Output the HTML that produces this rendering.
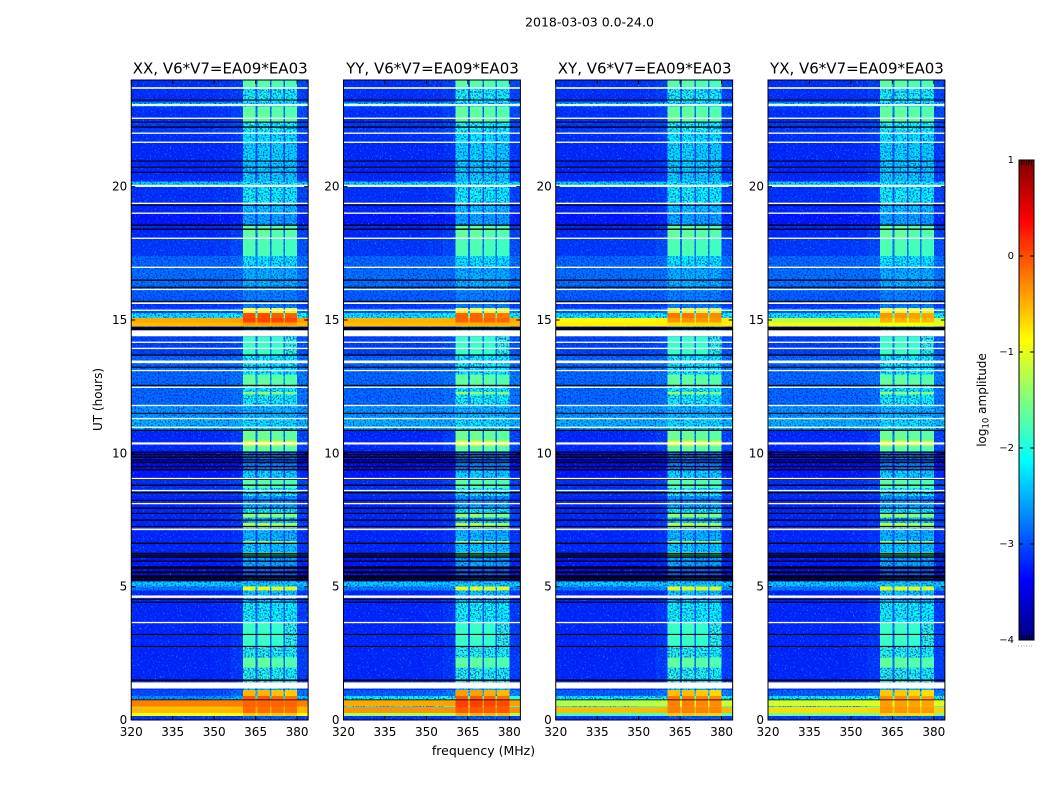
<!DOCTYPE html>
<html lang="en">
<head>
<meta charset="utf-8">
<title>2018-03-03 0.0-24.0</title>
<style>
html,body{margin:0;padding:0;background:#fff;width:1050px;height:800px;overflow:hidden}
svg{display:block}
text{font-family:"DejaVu Sans","Liberation Sans",sans-serif;fill:#000}
</style>
</head>
<body>
<svg id="chart" xmlns="http://www.w3.org/2000/svg" width="1050" height="800" viewBox="0 0 1050 800">
  <defs>
    <filter id="speckle-light" x="0" y="0" width="100%" height="100%" color-interpolation-filters="sRGB">
      <feTurbulence type="fractalNoise" baseFrequency="0.6" numOctaves="2" seed="7"/>
      <feColorMatrix type="matrix" values="0 0 0 0 0  0 0 0 0 0.62  0 0 0 0 1  5 0 0 0 -2.9"/>
    </filter>
    <filter id="speckle-dark" x="0" y="0" width="100%" height="100%" color-interpolation-filters="sRGB">
      <feTurbulence type="fractalNoise" baseFrequency="0.6" numOctaves="2" seed="23"/>
      <feColorMatrix type="matrix" values="0 0 0 0 0  0 0 0 0 0.1  0 0 0 0 0.85  5 0 0 0 -2.45"/>
    </filter>
    <linearGradient id="jet-gradient" x1="0" y1="0" x2="0" y2="1"></linearGradient>
  </defs>
  <text x="589.5" y="26.5" font-size="12.5" text-anchor="middle">2018-03-03 0.0-24.0</text>
  <text x="483.5" y="755" font-size="12.5" text-anchor="middle">frequency (MHz)</text>
  <text transform="translate(102,399.5) rotate(-90)" font-size="12" text-anchor="middle">UT (hours)</text>
  <g id="panels"></g>
  <g id="colorbar"></g>
  <text transform="translate(986,400) rotate(-90)" font-size="12" text-anchor="middle">log<tspan font-size="8.5" dy="2.5">10</tspan><tspan dy="-2.5"> amplitude</tspan></text>
</svg>
<script>
// ---------- chart data ----------
const panelTitles = ["XX, V6*V7=EA09*EA03", "YY, V6*V7=EA09*EA03", "XY, V6*V7=EA09*EA03", "YX, V6*V7=EA09*EA03"];
const polarizations = ["XX", "YY", "XY", "YX"];
const xTicks = [320, 335, 350, 365, 380];
const yTicks = [0, 5, 10, 15, 20];
const colorTicks = [1, 0, -1, -2, -3, -4];

// frequency channels (MHz) and how much of the "band" level each carries
const freqEdges = [320, 350, 356, 360.5, 365, 365.7, 370.2, 370.8, 375, 375.6, 380, 384];
const bandWeights = [0, 0.02, 0.07, 1, 0.25, 1, 0.25, 0.97, 0.25, 0.95, 0.1];

// time rows (UT hours): row start, log10 amplitude off-band and in-band
const rowStart = [0, 0.15, 0.26, 0.49, 0.52, 0.75, 0.9, 1.12, 1.41, 1.97, 2.35, 2.76, 3.66, 4.4, 4.86, 5.01, 5.2, 5.68, 6.1, 6.3, 6.62, 6.72, 7.22, 7.38, 7.6, 7.75, 8, 8.4, 8.7, 9, 9.37, 10.04, 10.28, 10.48, 10.86, 11.3, 11.8, 12.2, 12.3, 12.55, 12.95, 13.7, 14.39, 14.61, 14.75, 14.9, 15.07, 15.26, 15.45, 15.7, 16.2, 17, 17.4, 18.07, 18.55, 19, 19.4, 20.02, 20.2, 20.9, 21.7, 22, 22.4, 23, 23.15, 23.7];
const rowBg = [-3.1, -1, -1, -1, -1, -2, -3.1, -3.15, -3.2, -3.2, -3.2, -3.2, -3.2, -3.2, -2.75, -2.3, -3.4, -3.3, -3.2, -3.2, -3.2, -3.2, -3.2, -3.2, -3.2, -3.2, -3.2, -3.15, -3.15, -3.3, -3.4, -3.2, -3.2, -3.2, -2.45, -2.6, -2.85, -2.85, -2.85, -2.85, -2.85, -3.05, -3, -3.2, -1, -1, -2, -3, -3.1, -2.9, -2.8, -2.85, -3.1, -3.2, -3.3, -3.2, -3.15, -2.3, -3.2, -3.2, -3.15, -3.1, -3.15, -2.25, -3.15, -3.15];
const rowBand = [-2.9, -1, -1, -1, -1, -1, -1, -2.4, -1.95, -1.65, -1.95, -1.85, -2.05, -2.3, -0.95, -2.3, -2.85, -2.5, -1.8, -2.3, -1.4, -2.4, -1.25, -2.3, -1.4, -2.1, -2.6, -2.05, -1.7, -2.25, -2.7, -1.65, -1.05, -1.6, -2.2, -2.4, -2.05, -1.35, -2.05, -1.65, -2.1, -1.85, -3, -2.6, -1, -1, -1, -1, -2.7, -2.7, -2.45, -2.15, -1.75, -1.65, -2.5, -2.35, -2.05, -2.05, -2.3, -2.25, -2.15, -2, -1.65, -2.2, -2, -1.7];

// bright-interference rows, which differ by polarization
const hotStart = [0.15, 0.26, 0.49, 0.52, 0.75, 0.9, 14.75, 14.9, 15.07, 15.26];
const hotBgXX = [-0.9, -0.55, -0.4, -0.25, -2.6, -3, -0.55, -0.45, -2.2, -3];
const hotBandXX = [-0.6, -0.15, -0.1, -0.1, -0.05, -0.5, -0.4, 0.05, 0, -0.9];
const hotBgYY = [-1.3, -0.35, -2, -0.45, -2.1, -2.9, -0.55, -0.5, -2.2, -2.9];
const hotBandYY = [-0.5, -0.05, 0.05, 0.05, -0.05, -0.4, -0.5, -0.1, -0.1, -0.95];
const hotBgXY = [-1.8, -0.55, -1.9, -1.25, -2.1, -2.9, -0.8, -0.85, -2.2, -2.9];
const hotBandXY = [-0.6, -0.25, -0.3, -0.25, -0.2, -0.55, -0.7, -0.35, -0.2, -1];
const hotBgYX = [-1.6, -0.7, -2, -1.1, -2.1, -2.9, -0.95, -1.2, -2.2, -2.9];
const hotBandYX = [-0.7, -0.35, -0.4, -0.4, -0.3, -0.6, -0.9, -0.5, -0.35, -0.95];

// flagged time samples: [hour start, duration in hours]
const whiteFlagStart = [23.67, 23.03, 22.54, 21.98, 21.64, 19.99, 19.35, 18.98, 18.04, 16.95, 16.12, 15.6, 15.34, 14.39, 14.14, 13.91, 13.38, 13.08, 12.45, 11.77, 11.28, 10.95, 10.33, 9.03, 8.58, 8.09, 7.12, 4.58, 3.63, 1.18];
const whiteFlagSpan = [0.06, 0.07, 0.05, 0.05, 0.05, 0.08, 0.05, 0.05, 0.05, 0.05, 0.05, 0.06, 0.05, 0.22, 0.05, 0.05, 0.1, 0.05, 0.05, 0.05, 0.05, 0.05, 0.08, 0.05, 0.05, 0.05, 0.06, 0.09, 0.05, 0.23];
const blackFlagStart = [23.23, 22.4, 22.21, 20.94, 20.71, 20.52, 19.28, 18.53, 18.38, 16.47, 16.21, 15.68, 14.63, 13.66, 13.21, 12.53, 11.48, 10.84, 10.02, 9.93, 9.83, 9.73, 9.63, 9.48, 9.36, 9, 8.78, 8.5, 8.22, 7.92, 7.73, 7.47, 7.24, 6.6, 6.23, 6.16, 6.08, 5.93, 5.66, 5.5, 5.33, 5.22, 4.5, 4.4, 3.19, 2.74, 1.46, 0.74];
const blackFlagSpan = [0.04, 0.04, 0.05, 0.04, 0.04, 0.04, 0.04, 0.05, 0.05, 0.05, 0.04, 0.04, 0.1, 0.05, 0.04, 0.04, 0.04, 0.05, 0.05, 0.05, 0.05, 0.05, 0.06, 0.05, 0.05, 0.05, 0.05, 0.05, 0.04, 0.05, 0.04, 0.05, 0.04, 0.05, 0.04, 0.05, 0.06, 0.05, 0.1, 0.08, 0.1, 0.09, 0.04, 0.04, 0.04, 0.04, 0.06, 0.03];

// ---------- axis functions ----------
const panelLefts = [131.25, 343.5, 555.75, 768];
const panelWidth = 176.9;
const plotTop = 80;
const plotBottom = 720;
const hoursMax = 24;
const freqMin = 320;
const freqMax = 384;
function xScale(f, left) { return left + (f - freqMin) / (freqMax - freqMin) * panelWidth; }
function yScale(h) { return plotBottom - (h / hoursMax) * (plotBottom - plotTop); }
const cbTop = 160, cbBottom = 640, cbLeft = 1019, cbRight = 1034;
function cbScale(v) { return cbTop + (1 - v) / 5 * (cbBottom - cbTop); }

function jetChannel(x) { return Math.max(0, Math.min(1, x)); }
function jet(t) {
  const r = jetChannel(Math.min(4 * t - 1.5, -4 * t + 4.5));
  const g = jetChannel(Math.min(4 * t - 0.5, -4 * t + 3.5));
  const b = jetChannel(Math.min(4 * t + 0.5, -4 * t + 2.5));
  return "rgb(" + Math.round(r * 255) + "," + Math.round(g * 255) + "," + Math.round(b * 255) + ")";
}
function levelColor(v) { return jet((v + 4) / 5); }

const NS = "http://www.w3.org/2000/svg";
function make(tag, attrs, parent) {
  const el = document.createElementNS(NS, tag);
  for (const k in attrs) el.setAttribute(k, attrs[k]);
  parent.appendChild(el);
  return el;
}

const hotSeries = {
  XX: [hotBgXX, hotBandXX],
  YY: [hotBgYY, hotBandYY],
  XY: [hotBgXY, hotBandXY],
  YX: [hotBgYX, hotBandYX]
};

const panelsRoot = document.getElementById("panels");
polarizations.forEach(function (pol, p) {
  const left = panelLefts[p];
  const g = make("g", {}, panelsRoot);
  
  

  make("clipPath", { id: "clip-" + pol }, g);
  make("rect", { x: left, y: plotTop, width: panelWidth, height: plotBottom - plotTop }, g.lastChild);

  const cold = make("g", { "clip-path": "url(#clip-" + pol + ")", "shape-rendering": "crispEdges" }, g);
  
  
  const noiseLight = make("rect", { x: left, y: plotTop, width: panelWidth, height: plotBottom - plotTop, filter: "url(#speckle-light)", opacity: 0.8 }, g);
  
  
  const noiseDark = make("rect", { x: left, y: plotTop, width: panelWidth, height: plotBottom - plotTop, filter: "url(#speckle-dark)", opacity: 0.75 }, g);
  
  
  const hot = make("g", { "clip-path": "url(#clip-" + pol + ")", "shape-rendering": "crispEdges" }, g);
  
  

  rowStart.forEach(function (start, r) {
    const end = r + 1 < rowStart.length ? rowStart[r + 1] : hoursMax;
    const hi = hotStart.indexOf(start);
    const bg = hi >= 0 ? hotSeries[pol][0][hi] : rowBg[r];
    const band = hi >= 0 ? hotSeries[pol][1][hi] : rowBand[r];
    for (let c = 0; c + 1 < freqEdges.length; c++) {
      const level = bg + (band - bg) * bandWeights[c];
      const x0 = xScale(freqEdges[c], left);
      const x1 = xScale(freqEdges[c + 1], left);
      const cell = make("rect", {
        x: x0.toFixed(2),
        y: yScale(end).toFixed(2),
        width: (x1 - x0).toFixed(2),
        height: (yScale(start) - yScale(end)).toFixed(2),
        fill: levelColor(level)
      }, level > -1.9 ? hot : cold);
      
      
    }
  });

  const flags = make("g", { "clip-path": "url(#clip-" + pol + ")" }, g);
  
  
  blackFlagStart.forEach(function (h, i) {
    const line = make("rect", {
      x: left, width: panelWidth,
      y: yScale(h + blackFlagSpan[i]).toFixed(2),
      height: (yScale(h) - yScale(h + blackFlagSpan[i])).toFixed(2),
      fill: "#000"
    }, flags);
    
    
  });
  whiteFlagStart.forEach(function (h, i) {
    const line = make("rect", {
      x: left, width: panelWidth,
      y: yScale(h + whiteFlagSpan[i]).toFixed(2),
      height: (yScale(h) - yScale(h + whiteFlagSpan[i])).toFixed(2),
      fill: "#fff"
    }, flags);
    
    
  });

  const frame = make("rect", { x: left, y: plotTop, width: panelWidth, height: plotBottom - plotTop, fill: "none", stroke: "#000", "stroke-width": 1 }, g);
  
  

  const title = make("text", { x: left + panelWidth / 2 + 0.5, y: 73.5, "font-size": 15, "text-anchor": "middle" }, g);
  title.textContent = panelTitles[p];
  
  

  xTicks.forEach(function (f) {
    const x = xScale(f, left);
    make("line", { x1: x, x2: x, y1: plotBottom, y2: plotBottom - 4, stroke: "#000" }, g);
    make("line", { x1: x, x2: x, y1: plotTop, y2: plotTop + 4, stroke: "#000" }, g);
    const label = make("text", { x: x, y: 736, "font-size": 12, "text-anchor": "middle" }, g);
    label.textContent = f;
    
    
  });
  yTicks.forEach(function (h) {
    const y = yScale(h);
    make("line", { x1: left, x2: left + 4, y1: y, y2: y, stroke: "#000" }, g);
    make("line", { x1: left + panelWidth, x2: left + panelWidth - 4, y1: y, y2: y, stroke: "#000" }, g);
    const label = make("text", { x: left - 4, y: y + 4, "font-size": 12, "text-anchor": "end" }, g);
    label.textContent = h;
    
    
  });
});

// ---------- colorbar ----------
const grad = document.getElementById("jet-gradient");
for (let i = 0; i <= 32; i++) {
  make("stop", { offset: (i / 32 * 100) + "%", "stop-color": jet(1 - i / 32) }, grad);
}
const cb = document.getElementById("colorbar");
const cbBar = make("rect", { x: cbLeft, y: cbTop, width: cbRight - cbLeft, height: cbBottom - cbTop, fill: "url(#jet-gradient)", stroke: "#000", "stroke-width": 1 }, cb);


colorTicks.forEach(function (v) {
  const y = cbScale(v);
  if (v < 1 && v > -4) {
    make("line", { x1: cbLeft, x2: cbLeft + 4, y1: y, y2: y, stroke: "#000" }, cb);
    make("line", { x1: cbRight, x2: cbRight - 4, y1: y, y2: y, stroke: "#000" }, cb);
  }
  const label = make("text", { x: cbLeft - 5, y: y + 3, "font-size": 10, "text-anchor": "end" }, cb);
  label.textContent = String(v).replace("-", "\u2212");
  
  
});
for (let i = 1; i < 6; i++) {
  const x = cbLeft + i * (cbRight - cbLeft) / 6;
  make("line", { x1: x, x2: x, y1: cbTop, y2: cbTop + 5, stroke: "#000", opacity: 0.8 }, cb);
  make("line", { x1: x, x2: x, y1: cbBottom, y2: cbBottom - 5, stroke: "#000", opacity: 0.8 }, cb);
  make("rect", { x: x - 0.5, y: 645.5, width: 1, height: 1, fill: "#999" }, cb);
}
make("rect", { x: cbLeft - 1, y: 645.5, width: 1, height: 1, fill: "#999" }, cb);
</script>
</body>
</html>
